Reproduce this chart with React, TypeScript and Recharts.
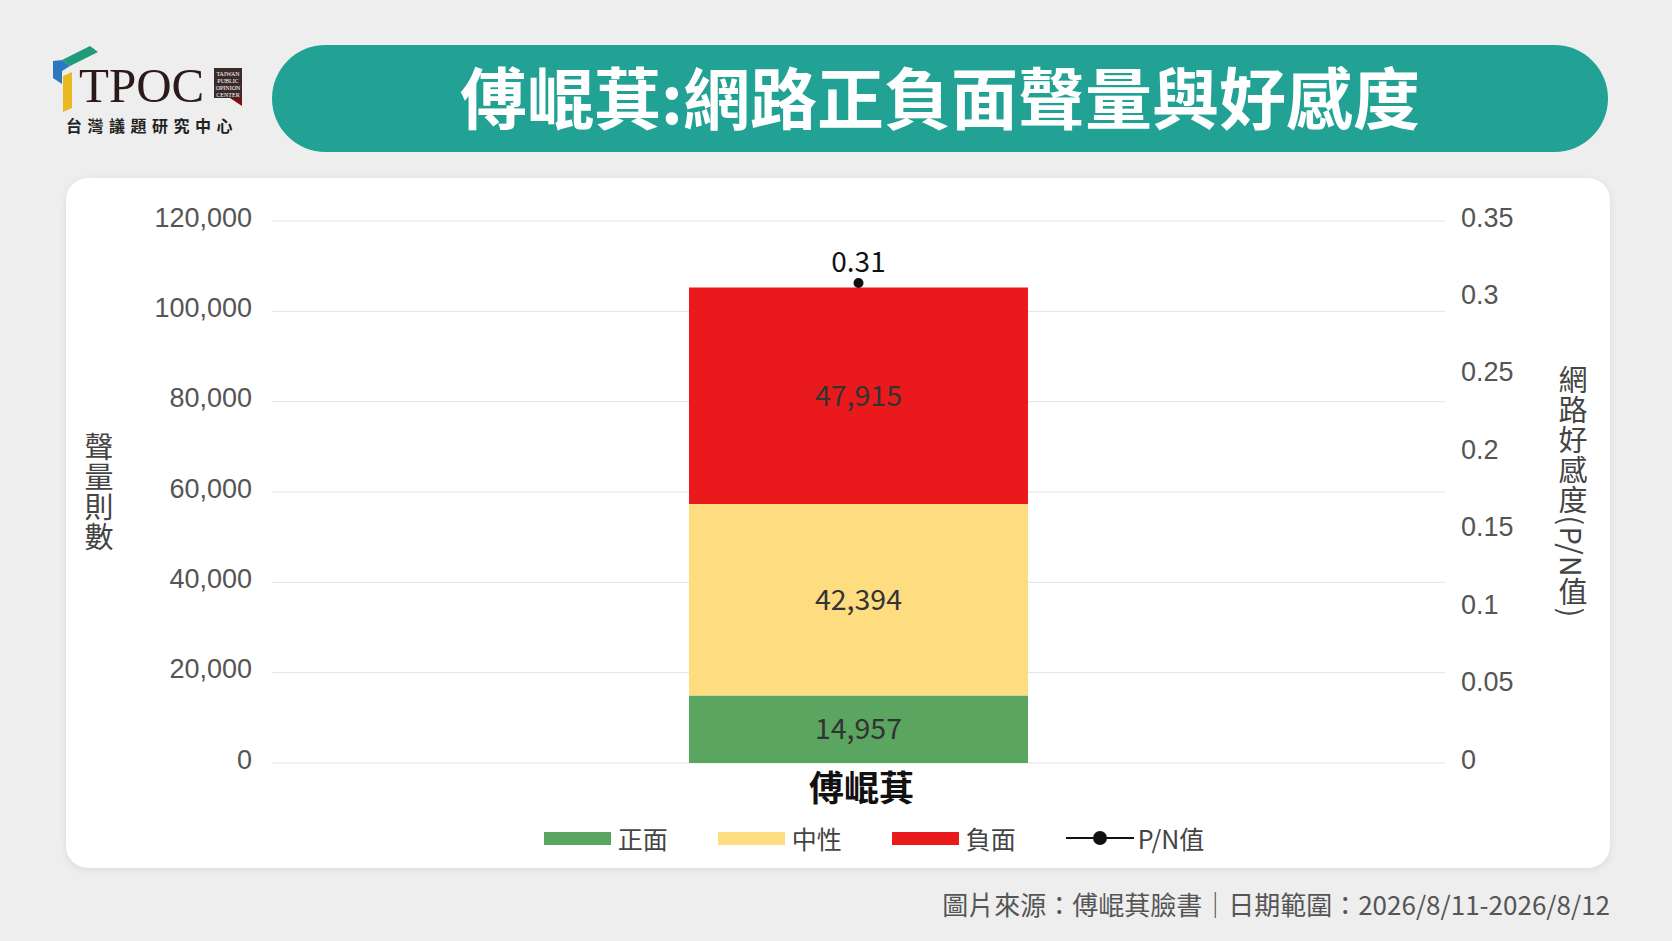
import React from 'react'
import { ComposedChart, Bar, Line, XAxis, YAxis, CartesianGrid, Legend, LabelList, Label } from 'recharts'

const categories = ['傅崐萁']
const positiveValues = [14957]
const neutralValues = [42394]
const negativeValues = [47915]
const pnValues = [0.31]
const leftTicks = [0, 20000, 40000, 60000, 80000, 100000, 120000]
const rightTicks = [0, 0.05, 0.1, 0.15, 0.2, 0.25, 0.3, 0.35]

const seriesNames = ['正面', '中性', '負面', 'P/N值']
const COLORS = ['#5aa55f', '#fedc80', '#ea1a1c', '#111111']

const CJK = '"Noto Sans CJK TC", "Noto Sans", sans-serif'
const NUM = '"Liberation Sans", Arial, "Noto Sans CJK TC", sans-serif'

const data = categories.map((name, i) => ({
  name,
  positive: positiveValues[i],
  neutral: neutralValues[i],
  negative: negativeValues[i],
  pn: pnValues[i],
}))

const fmt = (v: any) => Number(v).toLocaleString('en-US')

const VerticalLabel = ({ viewBox, text, dx }: any) => {
  const { x, y, height } = viewBox
  return (
    <text
      x={x + dx}
      y={y + height / 2}
      textAnchor="middle"
      fill="#444"
      fontSize={29}
      letterSpacing={1}
      fontFamily={CJK}
      style={{ writingMode: 'vertical-rl' }}
    >
      {text}
    </text>
  )
}

const CategoryTick = ({ x, y, payload }: any) => (
  <text x={x + 3} y={y} dy={30} textAnchor="middle" fill="#111" fontSize={35} fontWeight={700} fontFamily={CJK}>
    {payload.value}
  </text>
)

const renderLegend = () => (
  <div style={{ display: 'flex', justifyContent: 'center', paddingLeft: 72, fontFamily: CJK, fontSize: 25, color: '#444' }}>
    {seriesNames.map((name, i) => (
      <div key={name} style={{ display: 'flex', alignItems: 'center', marginRight: i < 3 ? 50 : 0 }}>
        {i < 3 ? (
          <div style={{ width: 67, height: 13, background: COLORS[i], marginRight: 7 }} />
        ) : (
          <svg width={68} height={20} style={{ marginRight: 4 }}>
            <line x1={0} y1={10} x2={68} y2={10} stroke="#111" strokeWidth={2} />
            <circle cx={34} cy={10} r={7} fill="#111" />
          </svg>
        )}
        <span>{name}</span>
      </div>
    ))}
  </div>
)

const Logo = () => (
  <svg width={210} height={100} style={{ position: 'absolute', left: 50, top: 44 }}>
    <polygon points="12,16 40,2 48,8 20,22" fill="#1f9a7a" />
    <polygon points="3,17 12,16 20,22 12,27 12,40 3,34" fill="#2a78c2" />
    <polygon points="13,32 22,28 22,64 13,68" fill="#e8b923" />
    <text x={29} y={58} fontFamily='"Liberation Serif", "DejaVu Serif", serif' fontSize={49} fill="#2a1a1a">TPOC</text>
    <rect x={164} y={24} width={28} height={30} fill="#3a2a2a" />
    <text x={178} y={32} textAnchor="middle" fontFamily='"Liberation Serif", serif' fontSize={6} fill="#fff">TAIWAN</text>
    <text x={178} y={39} textAnchor="middle" fontFamily='"Liberation Serif", serif' fontSize={6} fill="#fff">PUBLIC</text>
    <text x={178} y={46} textAnchor="middle" fontFamily='"Liberation Serif", serif' fontSize={6} fill="#fff">OPINION</text>
    <text x={178} y={53} textAnchor="middle" fontFamily='"Liberation Serif", serif' fontSize={6} fill="#fff">CENTER</text>
    <polygon points="180,54 192,54 192,62" fill="#7a1010" />
    <text x={16} y={88} fontFamily={CJK} fontWeight={700} fontSize={16} letterSpacing={5.5} fill="#222">台灣議題研究中心</text>
  </svg>
)

const App: React.FC = () => {
  return (
    <div style={{ position: 'absolute', left: 0, top: 0, width: 1672, height: 941, background: '#eeeeee', overflow: 'hidden' }}>
      <Logo />
      <div
        style={{
          position: 'absolute', left: 272, top: 45, width: 1336, height: 107, borderRadius: 54,
          background: '#22a295', display: 'flex', alignItems: 'center', justifyContent: 'center',
          color: '#fff', fontFamily: CJK, fontWeight: 700, fontSize: 67, paddingBottom: 8, boxSizing: 'border-box',
        }}
      >
        傅崐萁:網路正負面聲量與好感度
      </div>
      <div
        style={{
          position: 'absolute', left: 66, top: 178, width: 1544, height: 690, borderRadius: 22,
          background: '#fff', boxShadow: '0 2px 8px rgba(0,0,0,0.08)',
        }}
      >
        <ComposedChart width={1544} height={690} data={data} margin={{ top: 43, right: 0, bottom: 8, left: 0 }}>
          <CartesianGrid yAxisId="left" vertical={false} stroke="#e3e3e3" />
          <XAxis dataKey="name" axisLine={false} tickLine={false} height={57} tick={<CategoryTick />} />
          <YAxis
            yAxisId="left"
            width={206}
            domain={[0, 120000]}
            ticks={leftTicks}
            tickFormatter={fmt}
            axisLine={false}
            tickLine={false}
            tickSize={8}
            tickMargin={12}
            tick={{ fill: '#555', fontSize: 27, fontFamily: NUM, dy: -4 }}
          >
            <Label content={<VerticalLabel text="聲量則數" dx={33} />} />
          </YAxis>
          <YAxis
            yAxisId="right"
            orientation="right"
            width={165}
            domain={[0, 0.35]}
            ticks={rightTicks}
            axisLine={false}
            tickLine={false}
            tickSize={8}
            tickMargin={8}
            tick={{ fill: '#555', fontSize: 27, fontFamily: NUM, textAnchor: 'start', dy: -4 }}
          >
            <Label content={<VerticalLabel text="網路好感度(P/N值)" dx={128} />} />
          </YAxis>
          <Legend verticalAlign="bottom" height={40} content={renderLegend} />
          <Bar yAxisId="left" dataKey="positive" name={seriesNames[0]} stackId="a" fill={COLORS[0]} barSize={339} isAnimationActive={false}>
            <LabelList dataKey="positive" position="center" formatter={fmt} fill="#333" fontSize={28.5} fontFamily={CJK} />
          </Bar>
          <Bar yAxisId="left" dataKey="neutral" name={seriesNames[1]} stackId="a" fill={COLORS[1]} barSize={339} isAnimationActive={false}>
            <LabelList dataKey="neutral" position="center" formatter={fmt} fill="#333" fontSize={28.5} fontFamily={CJK} />
          </Bar>
          <Bar yAxisId="left" dataKey="negative" name={seriesNames[2]} stackId="a" fill={COLORS[2]} barSize={339} isAnimationActive={false}>
            <LabelList dataKey="negative" position="center" formatter={fmt} fill="#333" fontSize={28.5} fontFamily={CJK} />
          </Bar>
          <Line
            yAxisId="right"
            dataKey="pn"
            name={seriesNames[3]}
            stroke="#111"
            strokeWidth={2}
            dot={{ r: 4, fill: '#111', stroke: '#111' }}
            isAnimationActive={false}
          >
            <LabelList dataKey="pn" position="top" offset={11} fill="#111" fontSize={28} fontFamily={CJK} />
          </Line>
        </ComposedChart>
      </div>
      <div
        style={{
          position: 'absolute', right: 62, top: 885, fontFamily: CJK, fontSize: 26, color: '#555', whiteSpace: 'nowrap',
        }}
      >
        圖片來源：傅崐萁臉書｜日期範圍：2026/8/11-2026/8/12
      </div>
    </div>
  )
}

export default App
